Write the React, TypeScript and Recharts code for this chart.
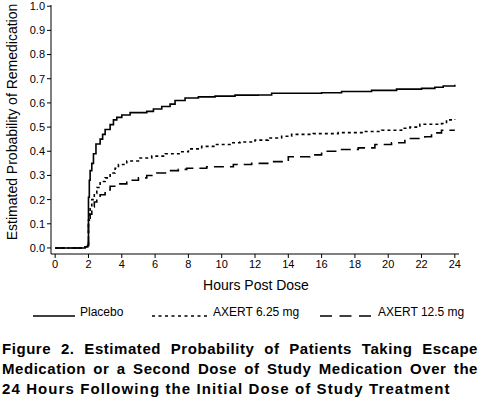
import { LineChart, Line, XAxis, YAxis } from 'recharts';

const FONT = '"Liberation Sans", Arial, Helvetica, sans-serif';

const xTicks = [0, 2, 4, 6, 8, 10, 12, 14, 16, 18, 20, 22, 24];
const yTicks = [0, 0.1, 0.2, 0.3, 0.4, 0.5, 0.6, 0.7, 0.8, 0.9, 1.0];

// Placebo
const placeboHours = [0, 1.5, 1.8, 1.95, 2.0, 2.05, 2.1, 2.2, 2.3, 2.45, 2.7, 2.85, 3.0, 3.3, 3.5, 3.7, 4.0, 4.5, 5.5, 5.9, 6.4, 6.9, 7.2, 7.8, 8.6, 9.6, 10.8, 12.2, 13.0, 16.0, 17.2, 19.0, 20.5, 22.0, 22.8, 23.3, 24];
const placeboProb = [0, 0, 0.005, 0.01, 0.21, 0.28, 0.32, 0.35, 0.39, 0.43, 0.45, 0.47, 0.49, 0.51, 0.53, 0.54, 0.55, 0.56, 0.565, 0.575, 0.585, 0.595, 0.61, 0.62, 0.625, 0.628, 0.632, 0.633, 0.64, 0.642, 0.647, 0.652, 0.657, 0.66, 0.665, 0.67, 0.675];

// AXERT 6.25 mg
const lowDoseHours = [0, 1.5, 1.8, 1.95, 2.0, 2.05, 2.1, 2.2, 2.35, 2.5, 2.7, 3.0, 3.3, 3.6, 3.8, 4.3, 5.0, 5.8, 6.6, 7.5, 8.0, 8.8, 9.6, 10.5, 11.1, 12.0, 12.8, 13.6, 14.2, 15.5, 17.0, 18.5, 19.6, 20.8, 21.3, 21.9, 23.2, 23.5, 24];
const lowDoseProb = [0, 0, 0.005, 0.01, 0.115, 0.14, 0.17, 0.2, 0.225, 0.25, 0.275, 0.29, 0.31, 0.33, 0.345, 0.36, 0.372, 0.38, 0.39, 0.398, 0.41, 0.42, 0.428, 0.435, 0.438, 0.446, 0.455, 0.462, 0.47, 0.473, 0.477, 0.482, 0.487, 0.495, 0.5, 0.512, 0.515, 0.53, 0.532];

// AXERT 12.5 mg
const highDoseHours = [0, 1.5, 1.8, 1.95, 2.0, 2.1, 2.2, 2.35, 2.5, 2.7, 3.0, 3.3, 3.7, 4.3, 5.0, 5.5, 6.1, 6.7, 7.4, 7.9, 9.1, 10.7, 11.8, 13.0, 14.0, 15.3, 16.0, 17.1, 18.2, 19.2, 20.2, 21.0, 22.2, 22.6, 23.2, 24];
const highDoseProb = [0, 0, 0.005, 0.01, 0.12, 0.14, 0.17, 0.19, 0.205, 0.22, 0.24, 0.255, 0.265, 0.28, 0.29, 0.3, 0.31, 0.32, 0.325, 0.33, 0.336, 0.345, 0.35, 0.357, 0.377, 0.385, 0.4, 0.407, 0.414, 0.428, 0.435, 0.453, 0.46, 0.476, 0.487, 0.487];

const seriesNames = ['Placebo', 'AXERT 6.25 mg', 'AXERT 12.5 mg'];

const toPoints = (hours: number[], probs: number[]) =>
  hours.map((h, i) => ({ h, p: probs[i] }));

const series = [
  { name: seriesNames[0], data: toPoints(placeboHours, placeboProb), dash: undefined as string | undefined },
  { name: seriesNames[1], data: toPoints(lowDoseHours, lowDoseProb), dash: '3 3' },
  { name: seriesNames[2], data: toPoints(highDoseHours, highDoseProb), dash: '10 6' },
];

const legendDash = [undefined, '3 3.5', '12 7.5'];
const legendPos = [
  { line: 33, width: 42, text: 80 },
  { line: 152, width: 55, text: 213 },
  { line: 320, width: 52, text: 378 },
];

const captionLines = [
  'Figure 2. Estimated Probability of Patients Taking Escape',
  'Medication or a Second Dose of Study Medication Over the',
  '24 Hours Following the Initial Dose of Study Treatment',
];

const tickStyle = { fill: '#000', fontSize: 11, fontFamily: FONT };

export default function App() {
  return (
    <div
      style={{
        position: 'absolute',
        top: 0,
        left: 0,
        width: 480,
        height: 398,
        background: '#fff',
        fontFamily: FONT,
        color: '#000',
        overflow: 'hidden',
      }}
    >
      <LineChart
        width={480}
        height={300}
        margin={{ top: 5, right: 21, left: 0, bottom: 0 }}
      >
        <XAxis
          dataKey="h"
          type="number"
          domain={[-0.25, 24.25]}
          ticks={xTicks}
          allowDataOverflow
          height={46}
          tick={tickStyle}
          tickSize={4}
          tickMargin={2}
          stroke="#000"
          label={{
            content: () => (
              <text
                x={256}
                y={285}
                textAnchor="middle"
                dominantBaseline="central"
                fontSize={14}
                fontFamily={FONT}
                fill="#000"
              >
                Hours Post Dose
              </text>
            ),
          }}
        />
        <YAxis
          type="number"
          domain={[-0.025, 1.005]}
          ticks={yTicks}
          allowDataOverflow
          width={51}
          tick={tickStyle}
          tickFormatter={(v: number) => v.toFixed(1)}
          tickSize={4}
          tickMargin={2}
          stroke="#000"
          label={{
            content: () => (
              <text
                x={12}
                y={122}
                transform="rotate(-90 12 122)"
                textAnchor="middle"
                dominantBaseline="central"
                fontSize={14}
                fontFamily={FONT}
                fill="#000"
              >
                Estimated Probability of Remedication
              </text>
            ),
          }}
        />
        {series.map((s) => (
          <Line
            key={s.name}
            name={s.name}
            data={s.data}
            dataKey="p"
            type="stepAfter"
            stroke="#000"
            strokeWidth={1.6}
            strokeDasharray={s.dash}
            dot={false}
            activeDot={false}
            isAnimationActive={false}
          />
        ))}
      </LineChart>

      {seriesNames.map((name, i) => (
        <div key={name}>
          <svg
            width={legendPos[i].width}
            height={4}
            style={{ position: 'absolute', left: legendPos[i].line, top: 314 }}
          >
            <line
              x1={0}
              y1={2}
              x2={legendPos[i].width}
              y2={2}
              stroke="#000"
              strokeWidth={1.5}
              strokeDasharray={legendDash[i]}
            />
          </svg>
          <span
            style={{
              position: 'absolute',
              left: legendPos[i].text,
              top: 304,
              fontSize: 12,
              lineHeight: '16px',
              whiteSpace: 'nowrap',
            }}
          >
            {name}
          </span>
        </div>
      ))}

      <div
        style={{
          position: 'absolute',
          left: 2,
          top: 339,
          width: 476,
          fontSize: 15,
          fontWeight: 'bold',
          lineHeight: '20px',
        }}
      >
        {captionLines.map((line, i) => (
          <div
            key={i}
            style={{
              whiteSpace: 'nowrap',
              letterSpacing: i < 2 ? 0.55 : 1.1,
              textAlign: 'justify',
              textAlignLast: i < 2 ? 'justify' : 'left',
            }}
          >
            {line}
          </div>
        ))}
      </div>
    </div>
  );
}
